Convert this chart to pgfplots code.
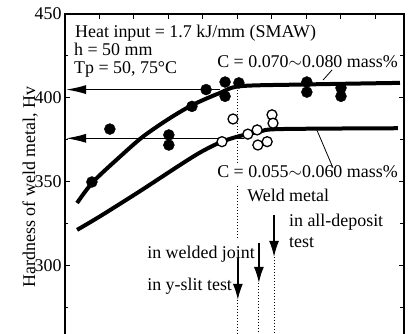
\documentclass[border=0pt]{standalone}
\usepackage{pgfplots}
\pgfplotsset{compat=1.18}
\usepackage{fontspec}
\setmainfont{Liberation Serif}
\usetikzlibrary{arrows.meta}
\newcommand{\ff}{\fontsize{18}{20}\selectfont}
\begin{document}
\begin{tikzpicture}[font=\ff]
\begin{axis}[
  name=ax,
  scale only axis,
  width=339bp, height=336bp,
  xmin=0, xmax=9.826, ymin=250, ymax=450,
  xtick={1,...,9}, xticklabels={},
  ytick={300,350,400,450},
  minor ytick={275,325,375,425},
  tick align=inside,
  major tick length=5bp, minor tick length=3.5bp,
  tick style={line width=1bp, black},
  axis line style={line width=1.3bp},
  yticklabel style={font=\ff},
  /pgf/number format/assume math mode=true,
  clip=false,
]
% curves
\addplot[line width=4bp, smooth, black] coordinates {
(0.35,337.5)(0.81,350)(1.59,365)(2.26,377)(3.04,388)(3.71,396)(4.49,403)(5.07,407)(6.81,408)(9.71,409)};
\addplot[line width=4bp, smooth, black] coordinates {
(0.35,321.5)(1.01,329.5)(2.17,344.5)(3.25,359)(3.91,367.5)(4.49,373.5)(5.0,377)(5.65,380)(6.23,381.5)(9.65,382)};
% horizontal arrows
\draw[line width=1.2bp, -{Latex[length=20bp,width=9bp]}] (axis cs:4.49,405) -- (axis cs:0.03,405);
\draw[line width=1.2bp, -{Latex[length=20bp,width=9bp]}] (axis cs:5.20,376) -- (axis cs:0.03,376);
% filled points, C = 0.070-0.080
\addplot[only marks, mark=*, mark size=5.5bp, black] coordinates {
(0.78,350)(1.30,381.5)(3.01,378)(3.01,372)(3.68,395)(4.09,405)(4.64,409.5)(4.64,401)(5.04,409)
(7.01,409.5)(7.01,403.5)(8.00,406)(8.00,401)};
% open points, C = 0.055-0.060
\addplot[only marks, mark=*, mark size=5bp, black, mark options={fill=white, line width=1.3bp}] coordinates {
(4.87,387.5)(4.55,374)(5.30,378.5)(5.57,381)(5.59,372)(5.86,374)(6.00,390)(6.03,385)};
% vertical dotted lines and arrows
\draw[dotted, line width=1bp] (axis cs:5.01,406.5) -- (axis cs:5.01,361);
\draw[dotted, line width=1bp] (axis cs:5.01,347.5) -- (axis cs:5.01,316);
\draw[dotted, line width=1bp] (axis cs:5.01,280) -- (axis cs:5.01,250);
\draw[dotted, line width=1bp] (axis cs:5.62,290) -- (axis cs:5.62,250);
\draw[dotted, line width=1bp] (axis cs:6.06,305.4) -- (axis cs:6.06,250);
\draw[line width=1.5bp, -{Latex[length=16bp,width=10bp]}] (axis cs:5.01,305) -- (axis cs:5.01,279.8);
\draw[line width=1.5bp, -{Latex[length=16bp,width=10bp]}] (axis cs:5.62,313.7) -- (axis cs:5.62,289.9);
\draw[line width=1.5bp, -{Latex[length=16bp,width=10bp]}] (axis cs:6.06,330.4) -- (axis cs:6.06,305.4);
% leader lines
\draw[line width=0.8bp] (axis cs:7.74,416.7) -- (axis cs:7.48,410.7);
\draw[line width=0.8bp] (axis cs:7.30,381) -- (axis cs:7.77,358.3);
% texts
\node[anchor=base west, inner sep=0] at (axis cs:0.29,436.3) {Heat input = 1.7 kJ/mm (SMAW)};
\node[anchor=base west, inner sep=0] at (axis cs:0.26,425) {h = 50 mm};
\node[anchor=base west, inner sep=0] at (axis cs:0.26,414.3) {Tp = 50, 75°C};
\node[anchor=base east, inner sep=0] at (axis cs:9.65,417.9) {C = 0.070$\sim$0.080 mass\%};
\node[anchor=base east, inner sep=0] at (axis cs:9.65,352.4) {C = 0.055$\sim$0.060 mass\%};
\node[anchor=base west, inner sep=0] at (axis cs:5.28,338.1) {Weld metal};
\node[anchor=base west, inner sep=0] at (axis cs:6.49,323.8) {in all-deposit};
\node[anchor=base west, inner sep=0] at (axis cs:6.49,311.3) {test};
\node[anchor=base west, inner sep=0] at (axis cs:2.38,304.2) {in welded joint};
\node[anchor=base west, inner sep=0] at (axis cs:2.38,285.7) {in y-slit test};
\node[rotate=90, anchor=center, inner sep=0] at (axis cs:-1.01,347) {Hardness of weld metal, Hv};
\coordinate (pbl) at (axis cs:-1.884,260.1);
\coordinate (ptr) at (axis cs:10.116,458.33);
\end{axis}
\pgfresetboundingbox
\path[use as bounding box] (pbl) rectangle (ptr);
\end{tikzpicture}
\end{document}
